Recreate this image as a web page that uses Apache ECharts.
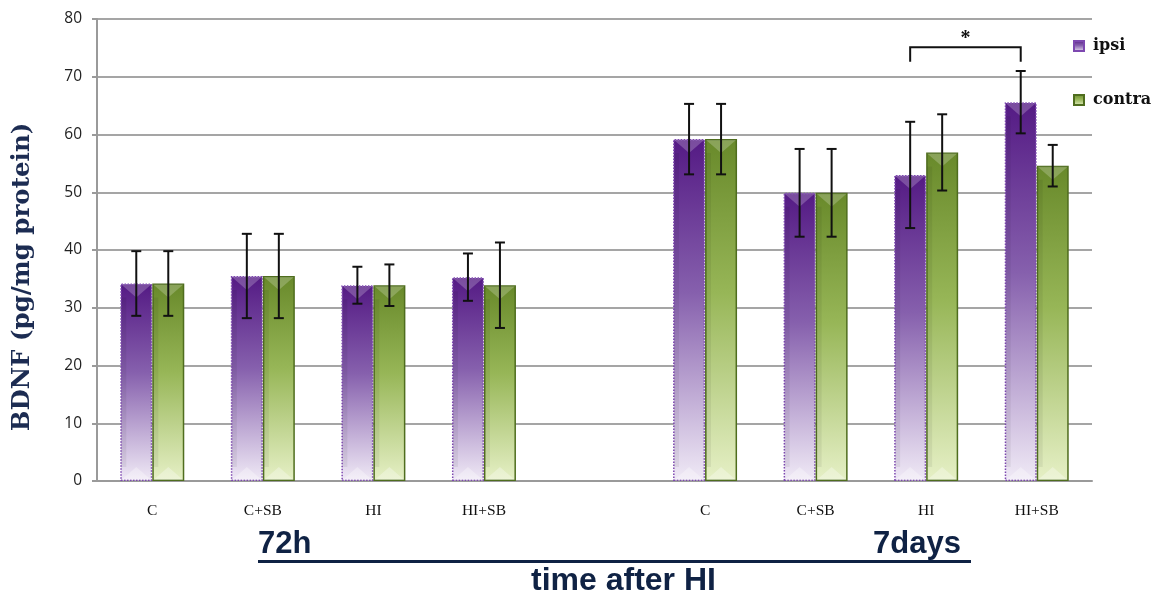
<!DOCTYPE html>
<html>
<head>
<meta charset="utf-8">
<script src="https://cdn.jsdelivr.net/npm/echarts@6/dist/echarts.min.js"></script>
<style>
  html, body { margin: 0; padding: 0; background: #fff; }
  #chart { width: 1155px; height: 598px; }
</style>
</head>
<body>
<div id="chart"></div>
<script>
// groups: 72h (C, C+SB, HI, HI+SB), empty spacer, 7days (C, C+SB, HI, HI+SB)
const categories = ['C', 'C+SB', 'HI', 'HI+SB', '', 'C', 'C+SB', 'HI', 'HI+SB'];
const ipsi = [34.2, 35.5, 33.9, 35.3, '-', 59.2, 49.9, 53.0, 65.6];
const contra = [34.2, 35.5, 33.9, 33.9, '-', 59.2, 49.9, 56.9, 54.6];
const ipsiErr = [5.6, 7.3, 3.2, 4.1, 0, 6.1, 7.6, 9.2, 5.4];
const contraErr = [5.6, 7.3, 3.6, 7.4, 0, 6.1, 7.6, 6.6, 3.6];
const yTicks = [0, 10, 20, 30, 40, 50, 60, 70, 80];
// significance bracket: from category, to category, top value, leg end value
const bracket = [[7, 8, 75.1, 72.6]];
const starValue = 76.6;

const navy = '#0f2244';
const barW = 32;

function errData(vals, errs, side) {
  const out = [];
  vals.forEach((v, i) => {
    if (v === '-') return;
    out.push([i, v - errs[i], v + errs[i], side]);
  });
  return out;
}

function barData(vals, side) {
  const out = [];
  vals.forEach((v, i) => {
    if (v === '-') return;
    out.push([i, v, side]);
  });
  return out;
}

const chart = echarts.init(document.getElementById('chart'));

chart.setOption({
  animation: false,
  grid: { left: 97, right: 63, top: 19, bottom: 117 },
  legend: {
    data: ['ipsi', 'contra'],
    orient: 'vertical',
    left: 1068,
    top: 33,
    icon: 'rect',
    itemWidth: 10,
    itemHeight: 10,
    itemGap: 38,
    textStyle: {
      fontFamily: 'DejaVu Serif',
      fontWeight: 'bold',
      fontSize: 16,
      color: '#111',
      padding: [0, 0, 0, 4]
    }
  },
  xAxis: {
    type: 'category',
    data: categories,
    axisLine: { lineStyle: { color: '#9a9a9a', width: 2 } },
    axisTick: { show: false },
    axisLabel: {
      margin: 22,
      fontFamily: 'Liberation Serif',
      fontSize: 15.5,
      color: '#111'
    }
  },
  yAxis: {
    type: 'value',
    min: yTicks[0],
    max: yTicks[yTicks.length - 1],
    interval: 10,
    name: 'BDNF (pg/mg protein)',
    nameLocation: 'middle',
    nameGap: 62,
    nameTextStyle: {
      fontFamily: 'DejaVu Serif',
      fontWeight: 'bold',
      fontSize: 24.5,
      color: '#1c2c52',
      padding: [0, 54, 0, 0]
    },
    axisLine: { show: true, lineStyle: { color: '#9a9a9a', width: 2 } },
    axisTick: { show: true, length: 5, lineStyle: { color: '#9a9a9a', width: 2 } },
    axisLabel: { fontFamily: 'Open Sans', fontSize: 15.5, color: '#222', margin: 15 },
    splitLine: { lineStyle: { color: '#a5a5a5', width: 2 } }
  },
  series: [
    {
      name: 'ipsi',
      type: 'bar',
      data: ipsi,
      barWidth: barW,
      barGap: '0%',
      itemStyle: {
        color: new echarts.graphic.LinearGradient(0, 0, 0, 1, [
          { offset: 0, color: '#541a84' },
          { offset: 0.45, color: '#8660ad' },
          { offset: 1, color: '#f0eaf6' }
        ]),
        borderColor: '#7d48b0',
        borderWidth: 1.5,
        borderType: 'dotted'
      }
    },
    {
      name: 'contra',
      type: 'bar',
      data: contra,
      barWidth: barW,
      itemStyle: {
        color: new echarts.graphic.LinearGradient(0, 0, 0, 1, [
          { offset: 0, color: '#68892a' },
          { offset: 0.45, color: '#97b657' },
          { offset: 1, color: '#e6f0c6' }
        ]),
        borderColor: '#4f6d1e',
        borderWidth: 1.5
      }
    },
    {
      // bevel highlights on the bar tops and bottoms
      name: 'bevel',
      type: 'custom',
      data: barData(ipsi, 0).concat(barData(contra, 1)),
      z: 5,
      silent: true,
      renderItem(params, api) {
        const top = api.coord([api.value(0), api.value(1)]);
        const bot = api.coord([api.value(0), 0]);
        const l = top[0] + (api.value(2) === 0 ? -barW : 0) + 1;
        const r = l + barW - 2;
        const c = (l + r) / 2;
        const h = Math.min(14, (bot[1] - top[1]) / 2);
        return {
          type: 'group',
          children: [
            { type: 'polygon', shape: { points: [[l, top[1] + 1], [r, top[1] + 1], [c, top[1] + h]] }, style: { fill: 'rgba(255,255,255,0.22)' } },
            { type: 'polygon', shape: { points: [[l, bot[1] - 1], [r, bot[1] - 1], [c, bot[1] - h]] }, style: { fill: 'rgba(255,255,255,0.3)' } },
            { type: 'rect', shape: { x: l, y: top[1] + h, width: 5, height: bot[1] - top[1] - 2 * h }, style: { fill: 'rgba(0,0,0,0.06)' } }
          ]
        };
      }
    },
    {
      name: 'err',
      type: 'custom',
      data: errData(ipsi, ipsiErr, 0).concat(errData(contra, contraErr, 1)),
      z: 10,
      renderItem(params, api) {
        const top = api.coord([api.value(0), api.value(2)]);
        const bot = api.coord([api.value(0), api.value(1)]);
        const x = top[0] + (api.value(3) === 0 ? -barW / 2 : barW / 2);
        const style = { stroke: '#111', lineWidth: 2 };
        return {
          type: 'group',
          children: [
            { type: 'line', shape: { x1: x, y1: top[1], x2: x, y2: bot[1] }, style },
            { type: 'line', shape: { x1: x - 5, y1: top[1], x2: x + 5, y2: top[1] }, style },
            { type: 'line', shape: { x1: x - 5, y1: bot[1], x2: x + 5, y2: bot[1] }, style }
          ]
        };
      }
    },
    {
      name: 'sig',
      type: 'custom',
      data: bracket,
      z: 10,
      renderItem(params, api) {
        const a = api.coord([api.value(0), api.value(2)]);
        const b = api.coord([api.value(1), api.value(2)]);
        const leg = api.coord([api.value(0), api.value(3)]);
        const s = api.coord([api.value(0), starValue]);
        const x1 = a[0] - barW / 2, x2 = b[0] - barW / 2;
        const style = { stroke: '#111', lineWidth: 2, fill: null };
        return {
          type: 'group',
          children: [
            { type: 'polyline', shape: { points: [[x1, leg[1]], [x1, a[1]], [x2, a[1]], [x2, leg[1]]] }, style },
            { type: 'text', x: (x1 + x2) / 2, y: s[1], style: { text: '*', fontSize: 20, fontWeight: 'bold', fontFamily: 'Liberation Serif', fill: '#111', align: 'center', verticalAlign: 'middle' } }
          ]
        };
      }
    }
  ],
  graphic: [
    { type: 'text', left: 258, top: 529, style: { text: '72h', fontFamily: 'Liberation Sans', fontWeight: 'bold', fontSize: 31, fill: navy } },
    { type: 'text', left: 873, top: 529, style: { text: '7days', fontFamily: 'Liberation Sans', fontWeight: 'bold', fontSize: 31, fill: navy } },
    { type: 'rect', shape: { x: 258, y: 560, width: 713, height: 3 }, style: { fill: navy } },
    { type: 'text', left: 531, top: 565, style: { text: 'time after HI', fontFamily: 'Liberation Sans', fontWeight: 'bold', fontSize: 32, fill: navy } }
  ]
});
</script>
</body>
</html>
